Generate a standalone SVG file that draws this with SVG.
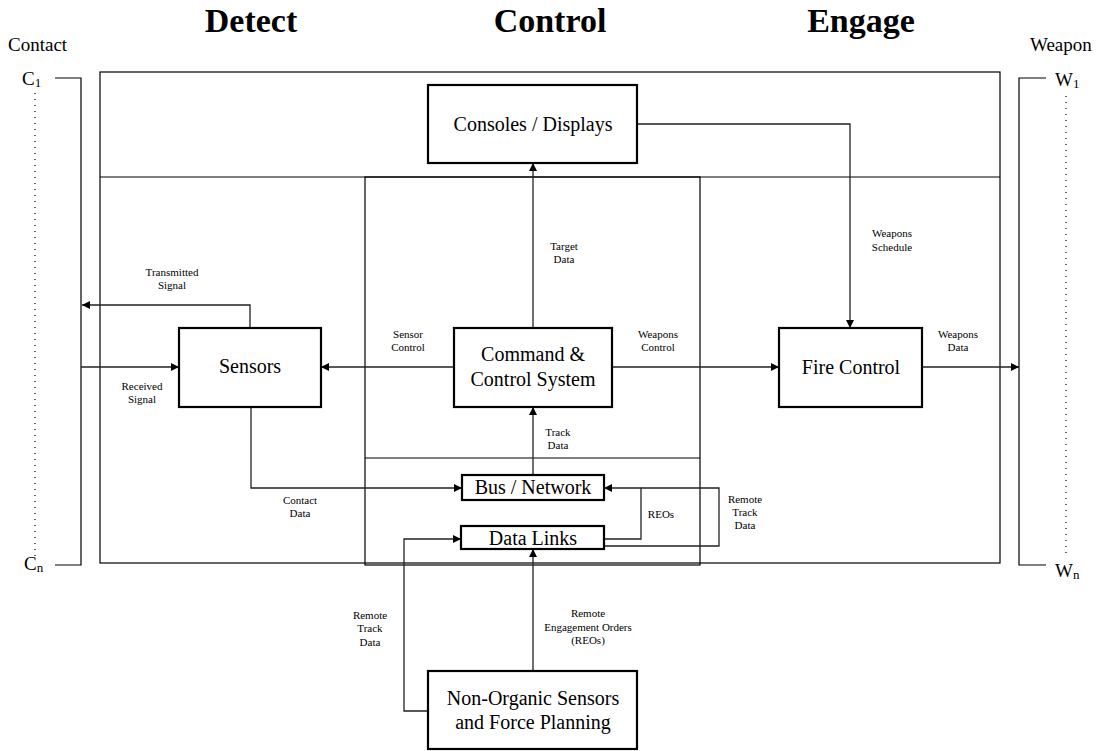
<svg xmlns="http://www.w3.org/2000/svg" width="1100" height="751" viewBox="0 0 1100 751">
<style>
text{font-family:"Liberation Serif","Times New Roman",serif;fill:#000}
.hdr{font-size:34px;font-weight:bold;text-anchor:middle}
.side{font-size:19px}
.box{fill:#fff;stroke:#000;stroke-width:2.2}
.bt{font-size:20px;text-anchor:middle}
.lbl{font-size:11px;text-anchor:middle}
.frame{fill:none;stroke:#000;stroke-width:1.2}
.con{fill:none;stroke:#222;stroke-width:1.3}
.dot{fill:none;stroke:#000;stroke-width:1.2;stroke-dasharray:1 5}
</style>
<defs>
<marker id="arr" viewBox="0 0 10 10" refX="10" refY="5" markerWidth="8" markerHeight="8" markerUnits="userSpaceOnUse" orient="auto">
<path d="M0,0 L10,5 L0,10 z" fill="#000"/>
</marker>
</defs>
<rect width="1100" height="751" fill="#fff"/>

<g id="headers">
<text class="hdr" x="251" y="32">Detect</text>
<text class="hdr" x="550" y="32">Control</text>
<text class="hdr" x="861" y="32">Engage</text>
</g>

<g id="contact">
<text class="side" x="8" y="51">Contact</text>
<text class="side" x="22" y="85">C<tspan font-size="13" dy="2">1</tspan></text>
<text class="side" x="24" y="570">C<tspan font-size="13" dy="2">n</tspan></text>
<line class="dot" x1="35" y1="93" x2="35" y2="556"/>
<polyline class="frame" points="55,78 81,78 81,565 55,565"/>
</g>

<g id="weapon">
<text class="side" x="1030" y="51">Weapon</text>
<text class="side" x="1055" y="86">W<tspan font-size="13" dy="2">1</tspan></text>
<text class="side" x="1055" y="577">W<tspan font-size="13" dy="2">n</tspan></text>
<line class="dot" x1="1066" y1="96" x2="1066" y2="558"/>
<polyline class="frame" points="1046,78 1019,78 1019,565 1046,565"/>
</g>

<g id="frames">
<rect class="frame" x="100" y="72" width="900" height="491"/>
<line class="frame" x1="100" y1="177" x2="1000" y2="177"/>
<rect class="frame" x="365" y="177" width="335" height="388"/>
<line class="frame" x1="365" y1="458" x2="700" y2="458"/>
</g>

<g id="connectors">
<polyline class="con" points="250,328 250,305 82,305" marker-end="url(#arr)"/>
<line class="con" x1="81" y1="367" x2="179" y2="367" marker-end="url(#arr)"/>
<line class="con" x1="454" y1="367" x2="321" y2="367" marker-end="url(#arr)"/>
<line class="con" x1="612" y1="367" x2="779" y2="367" marker-end="url(#arr)"/>
<line class="con" x1="922" y1="367" x2="1019" y2="367" marker-end="url(#arr)"/>
<line class="con" x1="533" y1="328" x2="533" y2="163" marker-end="url(#arr)"/>
<polyline class="con" points="637,124 850,124 850,328" marker-end="url(#arr)"/>
<line class="con" x1="533" y1="475" x2="533" y2="407" marker-end="url(#arr)"/>
<polyline class="con" points="251,407 251,488 462,488" marker-end="url(#arr)"/>
<polyline class="con" points="604,539 641,539 641,488 604,488" marker-end="url(#arr)"/>
<polyline class="con" points="604,546 719,546 719,488 641,488"/>
<polyline class="con" points="428,711 404,711 404,539 461,539" marker-end="url(#arr)"/>
<line class="con" x1="533" y1="671" x2="533" y2="549" marker-end="url(#arr)"/>
</g>

<g id="labels">
<text class="lbl" x="172" y="276">Transmitted</text>
<text class="lbl" x="172" y="289">Signal</text>
<text class="lbl" x="142" y="390">Received</text>
<text class="lbl" x="142" y="403">Signal</text>
<text class="lbl" x="408" y="338">Sensor</text>
<text class="lbl" x="408" y="351">Control</text>
<text class="lbl" x="658" y="338">Weapons</text>
<text class="lbl" x="658" y="351">Control</text>
<text class="lbl" x="564" y="250">Target</text>
<text class="lbl" x="564" y="263">Data</text>
<text class="lbl" x="892" y="237">Weapons</text>
<text class="lbl" x="892" y="251">Schedule</text>
<text class="lbl" x="958" y="338">Weapons</text>
<text class="lbl" x="958" y="351">Data</text>
<text class="lbl" x="558" y="436">Track</text>
<text class="lbl" x="558" y="449">Data</text>
<text class="lbl" x="300" y="504">Contact</text>
<text class="lbl" x="300" y="517">Data</text>
<text class="lbl" x="661" y="518">REOs</text>
<text class="lbl" x="745" y="503">Remote</text>
<text class="lbl" x="745" y="516">Track</text>
<text class="lbl" x="745" y="529">Data</text>
<text class="lbl" x="370" y="619">Remote</text>
<text class="lbl" x="370" y="632">Track</text>
<text class="lbl" x="370" y="646">Data</text>
<text class="lbl" x="588" y="617">Remote</text>
<text class="lbl" x="588" y="631">Engagement Orders</text>
<text class="lbl" x="588" y="644">(REOs)</text>
</g>

<g id="consoles">
<rect class="box" x="428" y="85" width="209" height="78"/>
<text class="bt" x="533" y="131">Consoles / Displays</text>
</g>
<g id="sensors">
<rect class="box" x="179" y="328" width="142" height="79"/>
<text class="bt" x="250" y="373">Sensors</text>
</g>
<g id="c2">
<rect class="box" x="454" y="328" width="158" height="79"/>
<text class="bt" x="533" y="361">Command &amp;</text>
<text class="bt" x="533" y="386">Control System</text>
</g>
<g id="firecontrol">
<rect class="box" x="779" y="328" width="143" height="79"/>
<text class="bt" x="851" y="374">Fire Control</text>
</g>
<g id="bus">
<rect class="box" x="462" y="475" width="142" height="25"/>
<text class="bt" x="533" y="494">Bus / Network</text>
</g>
<g id="datalinks">
<rect class="box" x="461" y="526" width="143" height="23"/>
<text class="bt" x="533" y="545">Data Links</text>
</g>
<g id="nonorganic">
<rect class="box" x="428" y="671" width="209" height="78"/>
<text class="bt" x="533" y="705">Non-Organic Sensors</text>
<text class="bt" x="533" y="729">and Force Planning</text>
</g>
</svg>
